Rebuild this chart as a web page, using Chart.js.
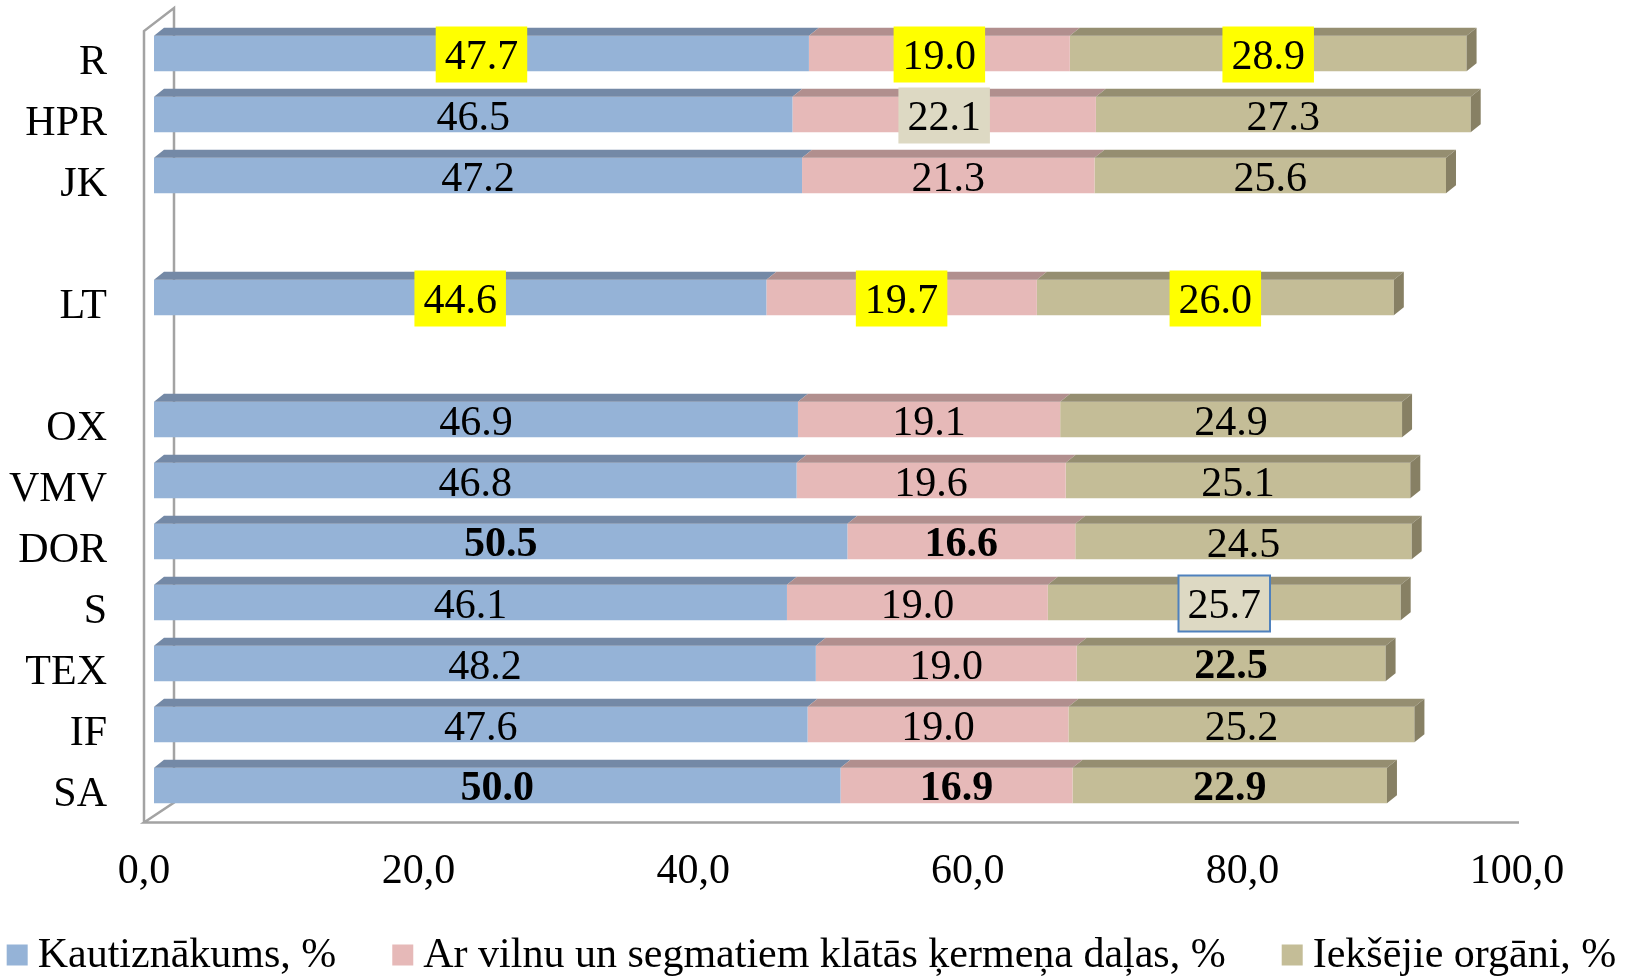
<!DOCTYPE html>
<html><head><meta charset="utf-8">
<script src="https://cdn.jsdelivr.net/npm/chart.js@4.4.1/dist/chart.umd.min.js"></script>
<style>html,body{margin:0;padding:0;background:#fff;} #wrap{width:1631px;height:978px;position:relative;}</style>
</head><body><div id="wrap"><canvas id="c"></canvas></div>
<script>
// ---- data ----
const categories = ['R','HPR','JK','','LT','','OX','VMV','DOR','S','TEX','IF','SA'];
const kautiznakums = [47.7,46.5,47.2,null,44.6,null,46.9,46.8,50.5,46.1,48.2,47.6,50.0];
const vilna = [19.0,22.1,21.3,null,19.7,null,19.1,19.6,16.6,19.0,19.0,19.0,16.9];
const organi = [28.9,27.3,25.6,null,26.0,null,24.9,25.1,24.5,25.7,22.5,25.2,22.9];
const seriesNames = ['Kautiznākums, %','Ar vilnu un segmatiem klātās ķermeņa daļas, %','Iekšējie orgāni, %'];
const xTickLabels = ['0,0','20,0','40,0','60,0','80,0','100,0'];

// ---- styles ----
const FONT = '"Liberation Serif","Times New Roman",serif';
const FS = 42;
const faceColors = ['#95B3D7','#E6B9B8','#C4BD97'];
const topColors = ['#7489A6','#B18F8E','#958E71'];
const sideColor = '#878064';
const boldLabels = {0:[8,12], 1:[8,12], 2:[10,12]};
const boxedLabels = {
  '0-0':{fill:'#FFFF00'}, '1-0':{fill:'#FFFF00'}, '2-0':{fill:'#FFFF00'},
  '0-4':{fill:'#FFFF00'}, '1-4':{fill:'#FFFF00'}, '2-4':{fill:'#FFFF00'},
  '1-1':{fill:'#DDD9C3'}, '2-9':{fill:'#DDD9C3', stroke:'#4F81BD'}
};

const wallPlugin = {
  id:'wall',
  beforeDatasetsDraw(chart){
    const ctx = chart.ctx, a = chart.chartArea;
    ctx.save();
    ctx.strokeStyle = '#A3A3A3'; ctx.lineWidth = 2.5;
    const fx = a.left - 10, bx = a.left + 20;
    const fTop = a.top + 8, bTop = a.top - 15;
    const fBot = a.bottom + 6.5, bBot = a.bottom - 13.5;
    ctx.beginPath();
    ctx.moveTo(fx, fBot); ctx.lineTo(fx, fTop); ctx.lineTo(bx, bTop); ctx.lineTo(bx, bBot); ctx.lineTo(fx, fBot);
    ctx.lineTo(a.right - 8, fBot);
    ctx.stroke();
    ctx.restore();
  }
};

const depthPlugin = {
  id:'depth',
  afterDatasetsDraw(chart){
    const ctx = chart.ctx; const DX = 10, DY = 8;
    const n = chart.data.datasets.length;
    ctx.save();
    chart.data.datasets.forEach((ds, di) => {
      const meta = chart.getDatasetMeta(di);
      meta.data.forEach((bar, i) => {
        if (ds.data[i] == null) return;
        const p = bar.getProps(['x','y','base','height'], true);
        const top = p.y - p.height/2, bottom = p.y + p.height/2;
        const l = Math.min(p.x, p.base), r = Math.max(p.x, p.base);
        ctx.fillStyle = topColors[di];
        ctx.beginPath();
        ctx.moveTo(l, top); ctx.lineTo(l+DX, top-DY); ctx.lineTo(r+DX, top-DY); ctx.lineTo(r, top);
        ctx.closePath(); ctx.fill();
        if (di === n-1) {
          ctx.fillStyle = sideColor;
          ctx.beginPath();
          ctx.moveTo(r, top); ctx.lineTo(r+DX, top-DY); ctx.lineTo(r+DX, bottom-DY); ctx.lineTo(r, bottom);
          ctx.closePath(); ctx.fill();
        }
      });
    });
    ctx.restore();
  }
};

const labelPlugin = {
  id:'vlabels',
  afterDatasetsDraw(chart){
    const ctx = chart.ctx;
    ctx.save();
    ctx.textAlign = 'center'; ctx.textBaseline = 'middle';
    chart.data.datasets.forEach((ds, di) => {
      const meta = chart.getDatasetMeta(di);
      meta.data.forEach((bar, i) => {
        const v = ds.data[i];
        if (v == null) return;
        const p = bar.getProps(['x','y','base'], true);
        const cx = (p.x + p.base)/2;
        const bold = (boldLabels[di]||[]).includes(i);
        ctx.font = (bold ? '700 ' : '') + FS + 'px ' + FONT;
        const txt = v.toFixed(1);
        const bx = boxedLabels[di + '-' + i];
        if (bx) {
          const w = ctx.measureText(txt).width + 18, h = 56;
          ctx.fillStyle = bx.fill;
          ctx.fillRect(cx - w/2, p.y + 1 - h/2, w, h);
          if (bx.stroke) { ctx.strokeStyle = bx.stroke; ctx.lineWidth = 2; ctx.strokeRect(cx - w/2, p.y + 1 - h/2, w, h); }
        }
        ctx.fillStyle = '#000';
        ctx.fillText(txt, cx, p.y + 4);
      });
    });
    ctx.restore();
  }
};

const legendPlugin = {
  id:'legend3',
  afterDraw(chart){
    const ctx = chart.ctx;
    ctx.save();
    ctx.font = FS + 'px ' + FONT;
    ctx.textBaseline = 'middle'; ctx.textAlign = 'left';
    const BOX = 21, GAP = 10, SP = 56, cy = 955;
    const items = chart.data.datasets.map(d => ({label:d.label, color:d.backgroundColor, w:ctx.measureText(d.label).width}));
    const total = items.reduce((s,it)=>s+BOX+GAP+it.w,0) + SP*(items.length-1);
    let x = (chart.width - total)/2 - 4;
    items.forEach(it => {
      ctx.fillStyle = it.color;
      ctx.fillRect(x, cy - BOX/2, BOX, BOX);
      ctx.fillStyle = '#000';
      ctx.fillText(it.label, x + BOX + GAP, cy + 1);
      x += BOX + GAP + it.w + SP;
    });
    ctx.restore();
  }
};

const seriesData = [kautiznakums, vilna, organi];
new Chart(document.getElementById('c'), {
  type:'bar',
  data:{
    labels: categories,
    datasets: seriesData.map((d, k) => ({
      label: seriesNames[k], data: d, backgroundColor: faceColors[k],
      borderWidth: 0, barPercentage: 0.58, categoryPercentage: 1.0
    }))
  },
  options:{
    indexAxis:'y', responsive:true, maintainAspectRatio:false, animation:false,
    layout:{padding:{top:23, right:104, bottom:0, left:0}},
    plugins:{legend:{display:false}, tooltip:{enabled:false}},
    scales:{
      x:{
        stacked:true, min:0, max:100,
        grid:{display:false, drawTicks:false}, border:{display:false},
        ticks:{stepSize:20, padding:31, labelOffset:-10, color:'#000', maxRotation:0,
          font:{family:FONT, size:FS},
          callback:(v, i) => xTickLabels[i]},
        afterFit:(s) => { s.height = 162; s.paddingLeft = 0; s.paddingRight = 0; }
      },
      y:{
        stacked:true,
        grid:{display:false, drawTicks:false}, border:{display:false},
        ticks:{padding:47, labelOffset:9, color:'#000', autoSkip:false, font:{family:FONT, size:FS}},
        afterFit:(s) => { s.width = 154; s.paddingTop = 0; s.paddingBottom = 0; }
      }
    }
  },
  plugins:[wallPlugin, depthPlugin, labelPlugin, legendPlugin]
});
</script>
</body></html>
